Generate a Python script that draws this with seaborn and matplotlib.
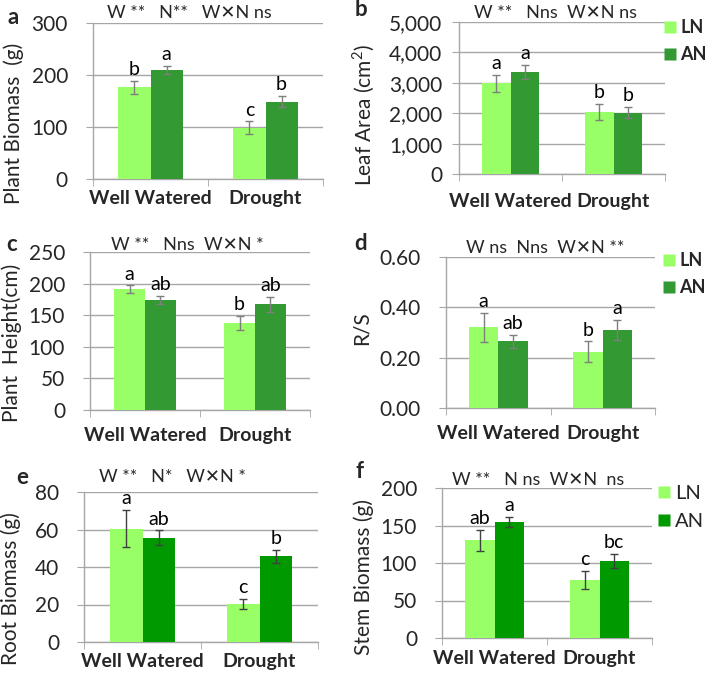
import matplotlib
matplotlib.use("Agg")
import matplotlib.pyplot as plt
import seaborn as sns
import pandas as pd
import numpy as np
from matplotlib.ticker import FuncFormatter

# ---------------- data ----------------
conditions = ["Well Watered", "Drought"]
treatments = ["LN", "AN"]

a_ln = [176, 99];      a_an = [210, 149]
a_ln_err = [13, 12];   a_an_err = [8, 11]
a_ln_let = ["b", "c"]; a_an_let = ["a", "b"]

b_ln = [2980, 2040];    b_an = [3350, 2020]
b_ln_err = [280, 270];  b_an_err = [230, 190]
b_ln_let = ["a", "b"];  b_an_let = ["a", "b"]

c_ln = [191, 138];      c_an = [174, 167]
c_ln_err = [6, 11];     c_an_err = [7, 12]
c_ln_let = ["a", "b"];  c_an_let = ["ab", "ab"]

d_ln = [0.32, 0.224];     d_an = [0.265, 0.311]
d_ln_err = [0.058, 0.041]; d_an_err = [0.025, 0.039]
d_ln_let = ["a", "b"];    d_an_let = ["ab", "a"]

e_ln = [60.5, 20.4];    e_an = [55.7, 45.8]
e_ln_err = [10, 2.8];   e_an_err = [3.8, 3.5]
e_ln_let = ["a", "c"];  e_an_let = ["ab", "b"]

f_ln = [130.5, 77.4];   f_an = [154.4, 103]
f_ln_err = [14, 12];    f_an_err = [7, 9]
f_ln_let = ["ab", "c"]; f_an_let = ["a", "bc"]

X = "\u2715"
sig_texts = [f"W **   N**   W{X}N ns", f"W **   Nns  W{X}N ns", f"W **   Nns  W{X}N *",
             f"W ns  Nns  W{X}N **", f"W **   N*   W{X}N *", f"W **   N ns  W{X}N  ns"]
ylabels = ["Plant Biomass  (g)", "Leaf Area (cm$^2$)", "Plant  Height(cm)",
           "R/S", "Root Biomass (g)", "Stem Biomass (g)"]
panel_letters = ["a", "b", "c", "d", "e", "f"]

# ---------------- style ----------------
sns.set_style("white")
FONT = ["Lato", "DejaVu Sans"]
plt.rcParams["font.family"] = FONT
plt.rcParams["mathtext.fontset"] = "custom"
plt.rcParams["mathtext.rm"] = "Lato"

W, H = 709, 674
fig = plt.figure(figsize=(W / 100, H / 100), dpi=100)

LIGHT = "#99ff66"
DARK1 = "#339933"
DARK2 = "#009900"
GRID = "#a6a6a6"

def px_axes(x0, x1, ytop, ybot):
    return fig.add_axes([x0 / W, 1 - ybot / H, (x1 - x0) / W, (ybot - ytop) / H])

def ftext(x, y, s, **kw):
    fig.text(x / W, 1 - y / H, s, **kw)

panels = [
    dict(box=(93, 323, 23, 179), ln=a_ln, an=a_an, lne=a_ln_err, ane=a_an_err, lnl=a_ln_let, anl=a_an_let,
         ylim=(0, 300), yticks=[0, 100, 200, 300], fmt="{:.0f}", dark=DARK1, labpad=8,
         ylab=(14, 123), sig=(189, 13), let=(13, 17), legend=None, ypad=13),
    dict(box=(459, 665, 22, 174), ln=b_ln, an=b_an, lne=b_ln_err, ane=b_an_err, lnl=b_ln_let, anl=b_an_let,
         ylim=(0, 5000), yticks=[0, 1000, 2000, 3000, 4000, 5000], fmt="{:,.0f}", dark=DARK1, labpad=14,
         ylab=(364, 115), sig=(556, 13), let=(361, 9), legend=("bold", 663, 19), ypad=7),
    dict(box=(90, 310, 252, 410), ln=c_ln, an=c_an, lne=c_ln_err, ane=c_an_err, lnl=c_ln_let, anl=c_an_let,
         ylim=(0, 250), yticks=[0, 50, 100, 150, 200, 250], fmt="{:.0f}", dark=DARK1, labpad=12,
         ylab=(12, 343), sig=(187, 245), let=(12, 245), legend=None, ypad=13),
    dict(box=(446, 655, 257, 408), ln=d_ln, an=d_an, lne=d_ln_err, ane=d_an_err, lnl=d_ln_let, anl=d_an_let,
         ylim=(0, 0.6), yticks=[0, 0.2, 0.4, 0.6], fmt="{:.2f}", dark=DARK1, labpad=12.5,
         ylab=(362, 328), sig=(545, 248), let=(361, 243), legend=("bold", 662, 252), ypad=13),
    dict(box=(84, 318, 492, 642), ln=e_ln, an=e_an, lne=e_ln_err, ane=e_an_err, lnl=e_ln_let, anl=e_an_let,
         ylim=(0, 80), yticks=[0, 20, 40, 60, 80], fmt="{:.0f}", dark=DARK2, labpad=8,
         ylab=(11, 589), sig=(172, 477), let=(22, 478), legend=None, ypad=13),
    dict(box=(442, 652, 488, 638), ln=f_ln, an=f_an, lne=f_ln_err, ane=f_an_err, lnl=f_ln_let, anl=f_an_let,
         ylim=(0, 200), yticks=[0, 50, 100, 150, 200], fmt="{:.0f}", dark=DARK2, labpad=8.5,
         ylab=(364, 577), sig=(538, 480), let=(359, 471), legend=("normal", 656, 485), ypad=13),
]

for i, p in enumerate(panels):
    ax = px_axes(*p["box"])
    df = pd.DataFrame({
        "cond": conditions * 2,
        "trt": [treatments[0]] * 2 + [treatments[1]] * 2,
        "val": list(p["ln"]) + list(p["an"]),
    })
    sns.barplot(data=df, x="cond", y="val", hue="trt", order=conditions, hue_order=treatments,
                palette=[LIGHT, p["dark"]], width=0.56, gap=0, errorbar=None, saturation=1,
                edgecolor="none", linewidth=0, ax=ax, legend=False, zorder=3)
    errs = list(p["lne"]) + list(p["ane"])
    lets = list(p["lnl"]) + list(p["anl"])
    vals = list(p["ln"]) + list(p["an"])
    bars = [b for b in ax.patches if b.get_height() > 0]
    ecol = "#7f7f7f" if p["dark"] == DARK1 else "#404040"
    for b, v, e, l in zip(bars, vals, errs, lets):
        cx = b.get_x() + b.get_width() / 2
        ax.errorbar(cx, v, yerr=e, fmt="none", ecolor=ecol, elinewidth=1, capsize=3, capthick=1, zorder=4)
        ax.annotate(l, (cx, v + e), xytext=(0, 2), textcoords="offset points",
                    ha="center", va="bottom", fontsize=14, color="black", family=FONT)

    ax.set_xlim(-0.5, 1.5)
    ax.set_ylim(*p["ylim"])
    ax.set_yticks(p["yticks"])
    fmt = p["fmt"]
    ax.yaxis.set_major_formatter(FuncFormatter(lambda v, pos, fmt=fmt: fmt.format(v)))
    ax.yaxis.grid(True, color=GRID, linewidth=1, zorder=0)
    ax.set_axisbelow(True)
    for s in ["top", "right"]:
        ax.spines[s].set_visible(False)
    for s in ["left", "bottom"]:
        ax.spines[s].set_color(GRID)
        ax.spines[s].set_linewidth(1)
    ax.tick_params(axis="y", length=5, color=GRID, labelsize=15, pad=p["ypad"], direction="out", left=True)
    ax.set_xticks([0, 1])
    ax.set_xticklabels(conditions, fontsize=14, fontweight="bold")
    ax.set_xticks([-0.5, 0.5, 1.5], minor=True)
    ax.tick_params(axis="x", which="major", length=0, pad=p["labpad"])
    ax.tick_params(axis="x", which="minor", length=5, color=GRID, direction="out", bottom=True)
    ax.set_xlabel("")
    ax.set_ylabel("")

    ftext(p["ylab"][0], p["ylab"][1], ylabels[i], rotation=90, ha="center", va="center", fontsize=15)
    ftext(p["sig"][0], p["sig"][1], sig_texts[i], ha="center", va="center", fontsize=13)
    ftext(p["let"][0], p["let"][1], panel_letters[i], ha="center", va="center", fontsize=16, fontweight="bold")

    if p["legend"] is not None:
        weight, lx, ly = p["legend"]
        size = 13 if weight == "bold" else 14.5
        handles = [plt.Line2D([], [], marker="s", linestyle="none", markersize=9,
                              markerfacecolor=c, markeredgecolor="none")
                   for c in [LIGHT, p["dark"]]]
        fig.legend(handles, treatments, loc="upper left", bbox_to_anchor=(lx / W, 1 - ly / H),
                   frameon=False, handletextpad=0.15, labelspacing=0.55, borderaxespad=0, borderpad=0,
                   handlelength=0.8, prop={"size": size, "weight": weight, "family": FONT})

fig.savefig("out.png", dpi=100)
